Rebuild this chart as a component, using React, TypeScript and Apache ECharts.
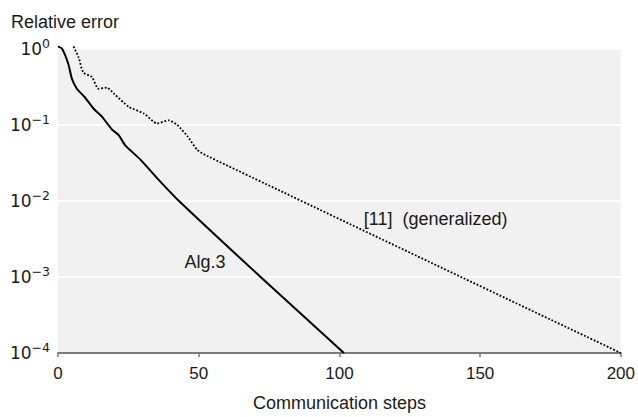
import React, { useEffect, useRef } from "react";
import * as echarts from "echarts";

// Communication steps (x) and relative error (y)
const alg3Steps = [0, 1.5, 3.7, 4.9, 6.7, 9.6, 12.6, 15.6, 19.2, 21.5, 23.9, 29.3, 35.2, 43.0, 72.0, 101.6];
const alg3Error = [1.08, 1.0, 0.63, 0.41, 0.3, 0.23, 0.165, 0.129, 0.087, 0.074, 0.054, 0.035, 0.02, 0.01, 0.001, 0.0001];

const ref11Steps = [5.5, 7.3, 9.0, 12.0, 14.4, 17.4, 19.8, 25.1, 30.5, 35.2, 39.4, 42.4, 46.0, 49.5, 53.1, 200];
const ref11Error = [1.08, 0.78, 0.49, 0.43, 0.3, 0.31, 0.26, 0.174, 0.142, 0.105, 0.115, 0.1, 0.071, 0.047, 0.039, 0.0001];

const xTicks = [0, 50, 100, 150, 200];
const yExponents = [0, -1, -2, -3, -4];

const annotationText = ["Alg.3", "[11]\u00a0\u00a0(generalized)"];
const annotationX = [52.2, 134.2];
const annotationY = [0.00158, 0.00586];

const toPairs = (xs: number[], ys: number[]) => xs.map((x, i) => [x, ys[i]]);

export default function App() {
  const ref = useRef<HTMLDivElement>(null);
  useEffect(() => {
    if (!ref.current) return;
    const chart = echarts.init(ref.current, null, { renderer: "svg" });
    const textColor = "#1a1a1a";
    const sans = "'Liberation Sans', Arial, sans-serif";
    chart.setOption({
      animation: false,
      backgroundColor: "#ffffff",
      grid: {
        show: true,
        left: 58,
        right: 17,
        top: 49,
        height: 307.5,
        backgroundColor: "#f1f1f1",
        borderWidth: 0,
        containLabel: false,
      },
      xAxis: {
        type: "value",
        min: xTicks[0],
        max: xTicks[xTicks.length - 1],
        interval: 50,
        name: "Communication steps",
        nameLocation: "middle",
        nameGap: 41,
        nameTextStyle: { fontSize: 18, color: textColor, fontFamily: sans },
        axisLine: { show: true, lineStyle: { color: "#7a7a7a", width: 2 } },
        axisTick: { show: true, length: 4, lineStyle: { color: "#7a7a7a", width: 1.5 } },
        axisLabel: { fontSize: 17, color: textColor, fontFamily: sans, margin: 12 },
        splitLine: { show: false },
      },
      yAxis: {
        type: "log",
        logBase: 10,
        min: Math.pow(10, yExponents[yExponents.length - 1]),
        max: Math.pow(10, yExponents[0]),
        splitNumber: 4,
        axisLine: { show: false },
        axisTick: { show: false },
        splitLine: { show: true, lineStyle: { color: "#ffffff", width: 2 } },
        axisLabel: {
          margin: 8,
          formatter: (v: number) => {
            const e = Math.round(Math.log10(v));
            const s = e === 0 ? "0" : "\u2212" + String(-e);
            return `{b|10}{s|${s}}`;
          },
          rich: {
            b: { fontSize: 17, fontFamily: "'DejaVu Sans'", color: textColor, lineHeight: 24, verticalAlign: "middle" },
            s: { fontSize: 12.5, fontFamily: "'DejaVu Sans'", color: textColor, verticalAlign: "top" },
          },
        },
      },
      graphic: [
        {
          type: "text",
          left: 11,
          top: 13,
          style: { text: "Relative error", fontSize: 18, fill: textColor, fontFamily: sans },
        },
      ],
      series: [
        {
          name: "Alg.3",
          type: "line",
          data: toPairs(alg3Steps, alg3Error),
          showSymbol: false,
          clip: false,
          smooth: 0.2,
          lineStyle: { color: "#000000", width: 2 },
          markPoint: {
            symbol: "circle",
            symbolSize: 0,
            label: { show: true, position: "inside", fontSize: 18, color: textColor, fontFamily: sans, formatter: annotationText[0] },
            data: [{ coord: [annotationX[0], annotationY[0]] }],
          },
        },
        {
          name: "[11] (generalized)",
          type: "line",
          data: toPairs(ref11Steps, ref11Error),
          showSymbol: false,
          clip: false,
          smooth: 0.2,
          lineStyle: { color: "#000000", width: 1.8, type: [1.8, 1.8] },
          markPoint: {
            symbol: "circle",
            symbolSize: 0,
            label: { show: true, position: "inside", fontSize: 18, color: textColor, fontFamily: sans, formatter: annotationText[1] },
            data: [{ coord: [annotationX[1], annotationY[1]] }],
          },
        },
      ],
    });
    return () => chart.dispose();
  }, []);
  return <div ref={ref} style={{ width: 638, height: 417, position: "absolute", left: 0, top: 0 }} />;
}
